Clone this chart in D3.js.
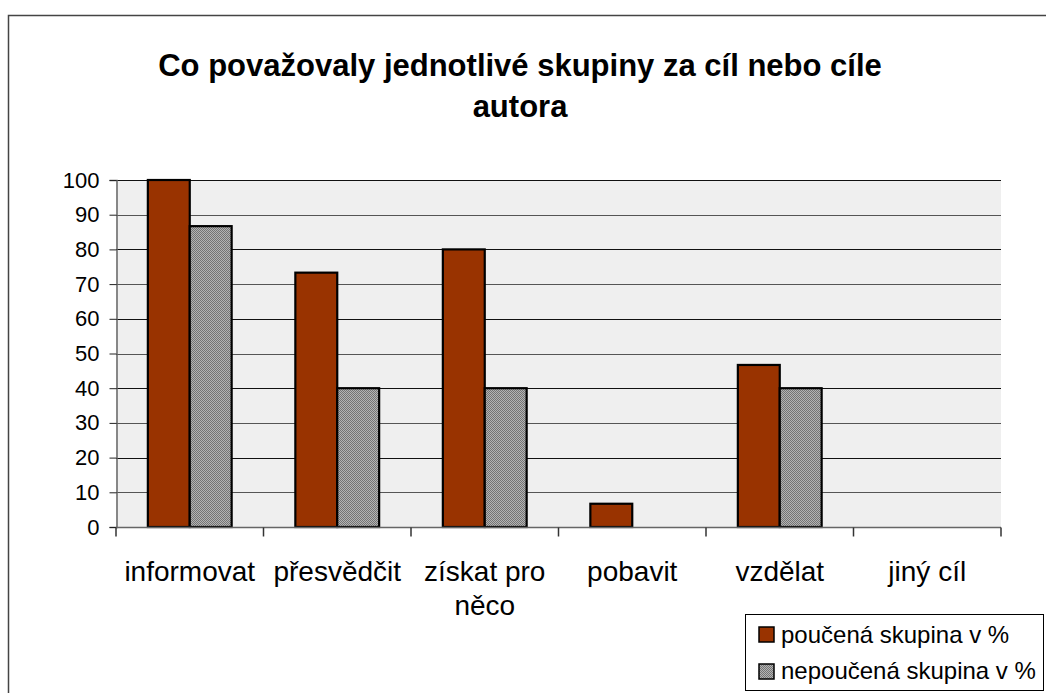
<!DOCTYPE html>
<html lang="cs">
<head>
<meta charset="UTF-8">
<script src="https://d3js.org/d3.v7.min.js"></script>
<style>
body{
	margin: 0;
	background-color: white;
	font-family: "Liberation Sans", Arial, sans-serif;
}
.tick line{
	stroke: #222;
}
</style>
</head>
<body>
<svg width="1046" height="693"></svg>

<script>
// data
const categories = ["informovat", "přesvědčit", "získat pro|něco", "pobavit", "vzdělat", "jiný cíl"]
const seriesNames = ["poučená skupina v %", "nepoučená skupina v %"]
const poucena = [100, 73.3, 80, 6.7, 46.7, 0]
const nepoucena = [86.7, 40, 40, 0, 40, 0]
const yTicks = [0, 10, 20, 30, 40, 50, 60, 70, 80, 90, 100]
const titleLines = ["Co považovaly jednotlivé skupiny za cíl nebo cíle", "autora"]

const svg = d3.select("svg")

// checker pattern for the grey series
let defs = svg.append("defs")
let pat = defs.append("pattern")
	.attr("id", "checker")
	.attr("width", 2).attr("height", 2)
	.attr("patternUnits", "userSpaceOnUse")
pat.append("rect").attr("width", 2).attr("height", 2).attr("fill", "#b4b4b4")
pat.append("rect").attr("width", 1).attr("height", 1).attr("fill", "#747474")
pat.append("rect").attr("x", 1).attr("y", 1).attr("width", 1).attr("height", 1).attr("fill", "#747474")

// outer chart frame (runs off the right/bottom edge)
svg.append("rect")
	.attr("x", 8.5).attr("y", 15.5)
	.attr("width", 1100).attr("height", 800)
	.attr("fill", "white")
	.attr("stroke", "#444")
	.attr("stroke-width", 1.5)

// title
svg.append("text")
	.attr("x", 520).attr("y", 76)
	.attr("text-anchor", "middle")
	.style("font-size", "31px")
	.style("font-weight", "bold")
	.selectAll("tspan")
	.data(titleLines)
	.join("tspan")
	.attr("x", 520)
	.attr("dy", function(d, i){ return i == 0 ? 0 : 41 })
	.text(function(d){ return d })

const pLeft = 116, pRight = 1001, pTop = 180, pBottom = 527

const x = d3.scaleBand()
	.domain(categories)
	.range([pLeft, pRight])
	.padding(0)

const xInner = d3.scaleBand()
	.domain(seriesNames)
	.range([0, x.bandwidth()])
	.paddingInner(0)
	.paddingOuter(0.76)

const y = d3.scaleLinear()
	.domain([0, 100])
	.range([pBottom, pTop])

// plot background
svg.append("rect")
	.attr("x", pLeft).attr("y", pTop)
	.attr("width", pRight - pLeft).attr("height", pBottom - pTop)
	.attr("fill", "#efefef")

// gridlines
svg.append("g")
	.selectAll("line")
	.data(yTicks.filter(function(d){ return d > 0 }))
	.join("line")
	.attr("x1", pLeft).attr("x2", pRight)
	.attr("y1", function(d){ return Math.round(y(d)) + 0.5 })
	.attr("y2", function(d){ return Math.round(y(d)) + 0.5 })
	.attr("stroke", function(d){ return (d / 10) % 2 == 1 ? "#555" : "#111" })
	.attr("stroke-width", 1)

// y axis
let yAxis = svg.append("g")
	.attr("transform", "translate(" + (pLeft + 0.5) + ",0)")
	.call(d3.axisLeft(y).tickValues(yTicks).tickSize(7).tickPadding(10))
yAxis.select(".domain").attr("stroke", "#666").attr("stroke-width", 1.5)
yAxis.selectAll("text")
	.style("font-family", "'Liberation Sans', Arial, sans-serif")
	.style("font-size", "22px")
	.attr("fill", "#000")

// bars
const series = [poucena, nepoucena]
const fills = ["#993300", "url(#checker)"]

series.forEach(function(vals, s){
	svg.append("g")
		.selectAll("rect")
		.data(categories.map(function(c, i){ return {cat: c, v: vals[i]} }).filter(function(d){ return d.v > 0 }))
		.join("rect")
		.attr("x", function(d){ return x(d.cat) + xInner(seriesNames[s]) })
		.attr("y", function(d){ return y(d.v) })
		.attr("width", xInner.bandwidth())
		.attr("height", function(d){ return y(0) - y(d.v) })
		.attr("fill", fills[s])
		.attr("stroke", "#000")
		.attr("stroke-width", 2.2)
})

// x axis
let xAxis = svg.append("g")
	.attr("transform", "translate(0," + (pBottom + 0.5) + ")")
xAxis.append("line")
	.attr("x1", pLeft).attr("x2", pRight)
	.attr("stroke", "#666").attr("stroke-width", 1.5)
xAxis.selectAll(".xtick")
	.data(d3.range(categories.length + 1))
	.join("line")
	.attr("class", "xtick")
	.attr("x1", function(i){ return pLeft + i * x.step() })
	.attr("x2", function(i){ return pLeft + i * x.step() })
	.attr("y1", 0).attr("y2", 9)
	.attr("stroke", "#333").attr("stroke-width", 1.5)

xAxis.selectAll(".xlabel")
	.data(categories)
	.join("text")
	.attr("class", "xlabel")
	.attr("text-anchor", "middle")
	.attr("y", 53)
	.style("font-size", "28px")
	.each(function(d){
		let t = d3.select(this)
		d.split("|").forEach(function(part, i){
			t.append("tspan")
				.attr("x", x(d) + x.bandwidth() / 2)
				.attr("dy", i == 0 ? 0 : 34)
				.text(part)
		})
	})

// legend
let legend = svg.append("g")
legend.append("rect")
	.attr("x", 745.5).attr("y", 614.5)
	.attr("width", 298).attr("height", 76)
	.attr("fill", "white")
	.attr("stroke", "#000").attr("stroke-width", 1)

legend.selectAll(".sw")
	.data(seriesNames)
	.join("rect")
	.attr("class", "sw")
	.attr("x", 759).attr("y", function(d, i){ return 627 + i * 37 })
	.attr("width", 15).attr("height", 15)
	.attr("fill", function(d, i){ return fills[i] })
	.attr("stroke", "#000").attr("stroke-width", 1.5)

legend.selectAll(".lt")
	.data(seriesNames)
	.join("text")
	.attr("class", "lt")
	.attr("x", 781).attr("y", function(d, i){ return 643 + i * 36 })
	.style("font-size", "24px")
	.text(function(d){ return d })
</script>
</body>
</html>
